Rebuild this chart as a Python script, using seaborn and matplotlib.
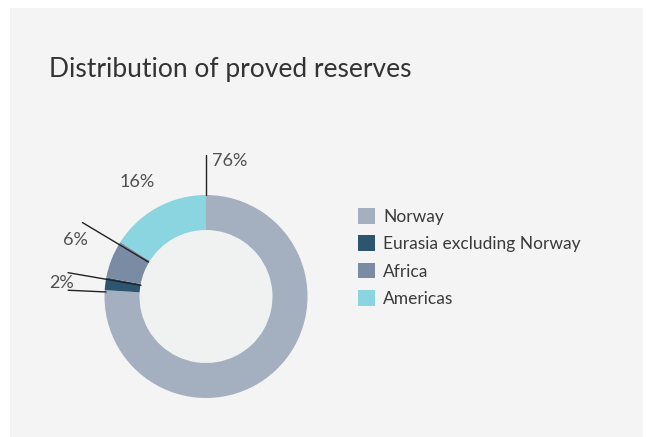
import numpy as np
import seaborn as sns
import matplotlib.pyplot as plt
from matplotlib.patches import Rectangle, Circle, Patch

# data
regions = ["Norway", "Eurasia excluding Norway", "Africa", "Americas"]
shares = [76, 2, 6, 16]
colors = ["#a4b0c0", "#2e5570", "#7a8ca3", "#8ad5e0"]
title = "Distribution of proved reserves"


def main():
    sns.set_theme(style="white")
    plt.rcParams["font.family"] = ["Lato", "DejaVu Sans"]

    W, H = 646, 437
    fig = plt.figure(figsize=(W / 100, H / 100), dpi=100, facecolor="white")

    # grey panel behind everything
    fig.patches.append(Rectangle((10 / W, 0), 633 / W, 429 / H,
                                 transform=fig.transFigure,
                                 facecolor="#f4f4f4", edgecolor="none", zorder=-10))

    fig.text(49 / W, 1 - 77 / H, title, fontsize=19, fontweight="normal",
             color="#333333", va="baseline", ha="left")

    # donut axes: 1 data unit = 100 px, centred at (206, 296.5)
    cx, cy, half = 206, 296.5, 160
    ax = fig.add_axes([(cx - half) / W, (H - cy - half) / H, 2 * half / W, 2 * half / H])
    ax.set_zorder(2)
    ax.set_facecolor("none")
    ax.axis("off")

    R, width = 1.015, 0.35
    ax.pie(shares, colors=colors, startangle=90, counterclock=False, radius=R,
           wedgeprops=dict(width=width, edgecolor="none"))
    ax.set_xlim(-1.6, 1.6)
    ax.set_ylim(-1.6, 1.6)
    ax.add_patch(Circle((0, 0), R - width, facecolor="#f0f2f2", edgecolor="none", zorder=0.5))

    # wedge boundaries (degrees, counter-clockwise from east)
    bounds = 90 - 3.6 * np.cumsum([0] + shares)

    def leader(angle, r0, r1):
        a = np.deg2rad(angle)
        ax.plot([r0 * np.cos(a), r1 * np.cos(a)], [r0 * np.sin(a), r1 * np.sin(a)],
                color="#222222", lw=1, clip_on=False, zorder=3)

    leader(90, R, 1.42)                      # Norway
    leader(bounds[1] + 361, 1.0, 1.38)       # Eurasia lower edge
    leader(bounds[2] + 361, 0.66, 1.40)      # Eurasia upper edge
    leader(bounds[3] + 361.5, 0.67, 1.44)    # Africa

    lab = dict(fontsize=13, color="#4f4f4f", va="center")
    ax.text(0.06, 1.35, f"{shares[0]}%", ha="left", **lab)
    ax.text(-1.32, 0.14, f"{shares[1]}%", ha="right", **lab)
    ax.text(-1.18, 0.565, f"{shares[2]}%", ha="right", **lab)
    ax.text(-0.51, 1.145, f"{shares[3]}%", ha="right", **lab)

    handles = [Patch(facecolor=c, edgecolor="none") for c in colors]
    fig.legend(handles, regions, loc="upper left",
               bbox_to_anchor=(358 / W, 1 - 208 / H), frameon=False,
               fontsize=12.5, handlelength=1.0, handleheight=1.0,
               handletextpad=0.45, labelspacing=0.62, borderpad=0,
               borderaxespad=0, labelcolor="#3a3a3a")

    fig.savefig("out.png", dpi=100, facecolor="white")


if __name__ == "__main__":
    main()
